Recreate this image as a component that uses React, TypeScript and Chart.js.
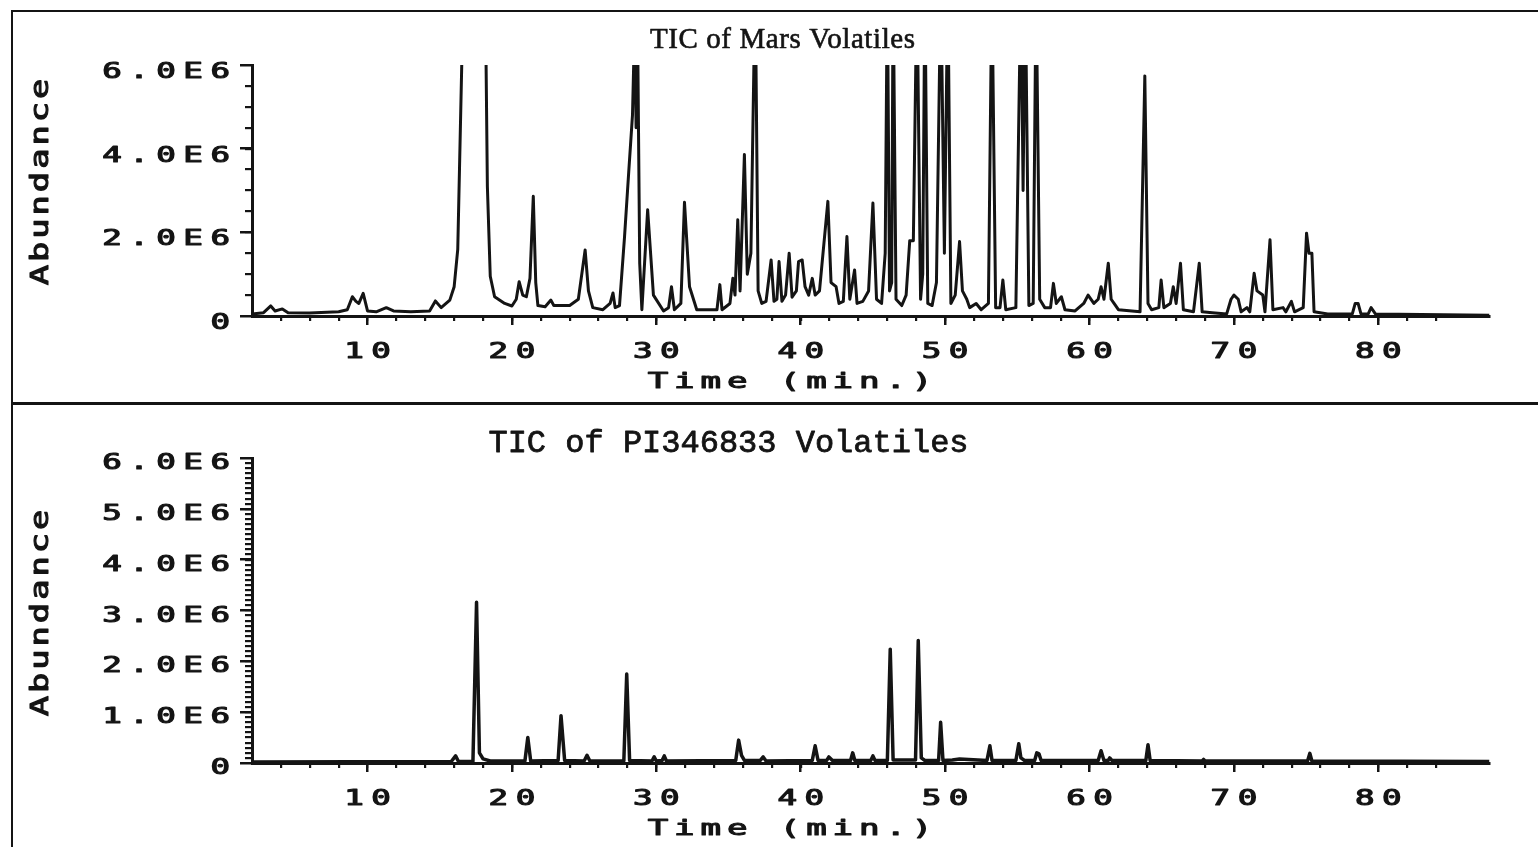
import React, { useEffect, useRef } from 'react';
import { Chart, registerables } from 'chart.js';

Chart.register(...registerables);

const INK = '#141414';

// Retention-time axis (minutes)
const timeMin = 2;
const timeMax = 87.7;
const timeMajorTicks = [10, 20, 30, 40, 50, 60, 70, 80];
const timeTickLabels = ['10', '20', '30', '40', '50', '60', '70', '80'];

// Mars volatiles: total ion current, abundance in millions of counts
const marsTime = [
  2.0, 2.8, 3.3, 3.6, 4.1, 4.5, 6.0, 8.0, 8.6, 8.95, 9.2, 9.4, 9.7, 10.0, 10.6, 11.3, 11.8, 13.0,
  14.3, 14.7, 15.1, 15.7, 16.0, 16.25, 16.65, 18.15, 18.3, 18.5, 18.8, 19.5, 20.0, 20.3, 20.5,
  20.75, 21.0, 21.25, 21.48, 21.65, 21.8, 22.3, 22.7, 22.9, 24.0, 24.6, 25.07, 25.3, 25.6, 26.3,
  26.8, 27.0, 27.15, 27.45, 27.8, 28.1, 28.35, 28.5, 28.6, 28.7, 28.85, 29.0, 29.4, 29.8, 30.5,
  30.85, 31.05, 31.25, 31.7, 31.95, 32.3, 32.8, 34.2, 34.4, 34.55, 35.1, 35.3, 35.45, 35.64, 35.8,
  36.1, 36.3, 36.55, 36.85, 37.05, 37.3, 37.6, 37.95, 38.15, 38.35, 38.5, 38.7, 38.95, 39.2, 39.4,
  39.7, 39.85, 40.1, 40.3, 40.55, 40.8, 41.0, 41.3, 41.88, 42.1, 42.45, 42.65, 42.95, 43.2, 43.4,
  43.73, 43.9, 44.3, 44.7, 45.0, 45.25, 45.6, 45.85, 46.0, 46.15, 46.3, 46.4, 46.6, 47.0, 47.3,
  47.55, 47.8, 48.05, 48.3, 48.45, 48.6, 48.8, 49.1, 49.4, 49.7, 49.95, 50.19, 50.4, 50.7, 51.0,
  51.2, 51.5, 51.7, 52.15, 52.5, 53.0, 53.24, 53.5, 53.8, 54.0, 54.2, 54.9, 55.25, 55.4, 55.55,
  55.8, 56.1, 56.3, 56.55, 56.9, 57.3, 57.5, 57.7, 58.05, 58.3, 59.0, 59.6, 59.9, 60.3, 60.6, 60.8,
  61.0, 61.3, 61.5, 61.7, 62.0, 63.5, 63.83, 64.05, 64.3, 64.8, 64.96, 65.15, 65.6, 65.8, 66.0,
  66.3, 66.5, 67.2, 67.6, 67.8, 68.5, 69.5, 69.8, 70.0, 70.3, 70.5, 70.9, 71.1, 71.4, 71.6, 72.0,
  72.15, 72.5, 72.7, 73.4, 73.6, 73.98, 74.2, 74.8, 75.03, 75.2, 75.4, 75.55, 76.5, 78.2, 78.4,
  78.6, 78.8, 79.3, 79.5, 79.8, 87.7,
];
const marsAbundanceE6 = [
  0.05, 0.08, 0.24, 0.12, 0.17, 0.08, 0.07, 0.1, 0.15, 0.46, 0.35, 0.3, 0.54, 0.12, 0.1, 0.2, 0.12, 0.1,
  0.12, 0.36, 0.2, 0.38, 0.7, 1.6, 8.0, 8.0, 3.1, 0.95, 0.46, 0.3, 0.24, 0.4, 0.82,
  0.5, 0.46, 0.9, 2.86, 0.8, 0.25, 0.22, 0.38, 0.25, 0.25, 0.4, 1.58, 0.6, 0.2, 0.15,
  0.3, 0.55, 0.2, 0.25, 1.9, 3.5, 4.8, 7.0, 4.5, 7.0, 1.26, 0.15, 2.54, 0.5, 0.12,
  0.2, 0.7, 0.15, 0.3, 2.72, 0.7, 0.15, 0.15, 0.75, 0.15, 0.3, 0.9, 0.5, 2.3, 0.6,
  3.86, 1.0, 1.5, 8.0, 0.6, 0.3, 0.35, 1.34, 0.35, 0.4, 1.3, 0.35, 0.5, 1.5, 0.45,
  0.6, 1.3, 1.34, 0.7, 0.5, 0.9, 0.5, 0.6, 2.74, 0.8, 0.7, 0.3, 0.35, 1.9, 0.4,
  1.1, 0.3, 0.35, 0.6, 2.7, 0.4, 0.3, 1.5, 8.0, 0.6, 0.8, 8.0, 0.4, 0.25, 0.5,
  1.8, 1.8, 8.0, 0.4, 1.0, 8.0, 0.3, 0.25, 0.8, 8.0, 1.5, 8.0, 0.3, 0.5, 1.78,
  0.6, 0.4, 0.2, 0.3, 0.15, 0.3, 8.0, 0.2, 0.2, 0.86, 0.15, 0.2, 8.0, 3.0, 8.0,
  0.25, 0.3, 8.0, 0.4, 0.2, 0.2, 0.78, 0.3, 0.46, 0.15, 0.12, 0.3, 0.5, 0.3, 0.4, 0.7,
  0.4, 1.26, 0.4, 0.3, 0.15, 0.1, 5.74, 0.3, 0.15, 0.2, 0.86, 0.2, 0.3, 0.7, 0.3,
  1.26, 0.15, 0.1, 1.26, 0.1, 0.08, 0.05, 0.4, 0.5, 0.4, 0.1, 0.2, 0.1, 1.02, 0.6, 0.5,
  0.1, 1.82, 0.15, 0.2, 0.1, 0.35, 0.1, 0.2, 1.98, 1.5, 1.5, 0.1, 0.05, 0.05, 0.3,
  0.3, 0.05, 0.05, 0.2, 0.05, 0.02,
];
const marsYTicks = [0, 2e6, 4e6, 6e6];
const marsYTickLabels = ['0', '2.0E6', '4.0E6', '6.0E6'];

// PI346833 volatiles: total ion current, abundance in millions of counts
const piTime = [
  2.0, 15.8, 16.1, 16.3, 17.3, 17.55, 17.75, 18.0, 18.5, 20.9, 21.1, 21.3, 23.2, 23.4, 23.65,
  25.0, 25.2, 25.4, 27.75, 27.95, 28.15, 29.7, 29.85, 30.0, 30.4, 30.55, 30.7, 35.5, 35.7, 35.9,
  36.1, 37.2, 37.4, 37.6, 40.8, 41.0, 41.2, 41.8, 41.95, 42.2, 43.45, 43.6, 43.75, 44.85, 45.0,
  45.15, 46.0, 46.2, 46.4, 47.95, 48.14, 48.35, 48.6, 49.55, 49.69, 49.85, 50.5, 51.0, 52.9,
  53.1, 53.25, 54.9, 55.1, 55.25, 55.5, 56.2, 56.35, 56.5, 56.65, 60.6, 60.8, 61.0, 61.3, 61.4,
  61.55, 63.9, 64.05, 64.2, 67.8, 67.9, 68.0, 75.1, 75.26, 75.4, 87.7,
];
const piAbundanceE6 = [
  0.02, 0.03, 0.14, 0.03, 0.03, 3.16, 0.2, 0.08, 0.04, 0.04, 0.5, 0.04, 0.05, 0.93, 0.05,
  0.04, 0.15, 0.04, 0.04, 1.75, 0.05, 0.04, 0.12, 0.04, 0.05, 0.14, 0.04, 0.05, 0.45, 0.15,
  0.05, 0.05, 0.12, 0.04, 0.05, 0.34, 0.05, 0.05, 0.12, 0.05, 0.05, 0.2, 0.05, 0.05, 0.14,
  0.05, 0.05, 2.24, 0.06, 0.06, 2.41, 0.1, 0.05, 0.05, 0.8, 0.05, 0.06, 0.08, 0.05,
  0.34, 0.05, 0.05, 0.38, 0.1, 0.05, 0.05, 0.2, 0.18, 0.05, 0.05, 0.24, 0.05, 0.05, 0.1,
  0.05, 0.05, 0.36, 0.05, 0.04, 0.07, 0.04, 0.04, 0.19, 0.04, 0.03,
];
const piYTicks = [0, 1e6, 2e6, 3e6, 4e6, 5e6, 6e6];
const piYTickLabels = ['0', '1.0E6', '2.0E6', '3.0E6', '4.0E6', '5.0E6', '6.0E6'];

type TextStyle = { font: string; spacing: number; scaleX: number; stroke: number };

// Wide, evenly pitched lettering in the style of a pen plotter
const TICK_STYLE: TextStyle = { font: '21px "DejaVu Sans Mono"', spacing: 4.8, scaleX: 1.55, stroke: 1.1 };
const TIME_STYLE: TextStyle = { font: '22px "DejaVu Sans Mono"', spacing: 3.8, scaleX: 1.55, stroke: 1.1 };
const ABUNDANCE_STYLE: TextStyle = { font: '25px "DejaVu Sans Mono"', spacing: 2.2, scaleX: 1.35, stroke: 1.1 };
const MARS_TITLE_STYLE: TextStyle = { font: '29px "Liberation Serif"', spacing: 0.6, scaleX: 1, stroke: 0.6 };
const PI_TITLE_STYLE: TextStyle = { font: '32px "Liberation Mono"', spacing: 0, scaleX: 1, stroke: 0.8 };

function drawText(
  ctx: CanvasRenderingContext2D,
  text: string,
  x: number,
  y: number,
  style: TextStyle,
  align: 'left' | 'center' | 'right',
  rotate = false,
) {
  const c = ctx as any;
  ctx.save();
  ctx.font = style.font;
  ctx.textAlign = 'left';
  ctx.textBaseline = 'alphabetic';
  const supported = 'letterSpacing' in c;
  if (supported) c.letterSpacing = '0px';
  const plain = ctx.measureText(text).width;
  const width = supported ? plain + style.spacing * (Array.from(text).length - 1) : plain;
  if (supported) c.letterSpacing = `${style.spacing}px`;
  ctx.translate(x, y);
  if (rotate) ctx.rotate(-Math.PI / 2);
  ctx.scale(style.scaleX, 1);
  const start = align === 'left' ? 0 : align === 'center' ? -width / 2 : -width;
  ctx.fillText(text, start, 0);
  if (style.stroke > 0) {
    ctx.strokeStyle = ctx.fillStyle;
    ctx.lineWidth = style.stroke;
    ctx.lineJoin = 'round';
    ctx.strokeText(text, start, 0);
  }
  ctx.restore();
}

const plotterText = {
  id: 'plotterText',
  afterDraw(chart: any, _args: any, opts: any) {
    const { ctx, chartArea: area } = chart;
    const xScale = chart.scales.x;
    const yScale = chart.scales.y;
    ctx.save();
    ctx.fillStyle = INK;
    opts.yTicks.forEach((v: number, i: number) => {
      drawText(ctx, opts.yTickLabels[i], area.left - 22, yScale.getPixelForValue(v) + opts.yLabelDrop, TICK_STYLE, 'right');
    });
    timeMajorTicks.forEach((v, i) => {
      drawText(ctx, timeTickLabels[i], xScale.getPixelForValue(v), area.bottom + 42, TICK_STYLE, 'center');
    });
    drawText(ctx, 'Time (min.)', opts.timeTitleX, area.bottom + 72, TIME_STYLE, 'center');
    drawText(ctx, 'Abundance', 35, opts.abundanceY, ABUNDANCE_STYLE, 'center', true);
    drawText(ctx, opts.title, opts.titleX, opts.titleY, opts.titleStyle, 'center');
    ctx.restore();
  },
};

function insideOnly(scale: any) {
  scale.ticks = scale.ticks.filter((t: any) => t.value > scale.min && t.value < scale.max);
}

function buildScales(yTicks: number[], yMinorStep: number) {
  const tickGrid = (len: number, width: number) => ({
    display: true,
    drawOnChartArea: false,
    drawTicks: true,
    tickLength: len,
    lineWidth: width,
    tickWidth: width,
    color: INK,
  });
  return {
    x: {
      type: 'linear',
      position: 'bottom',
      weight: 1,
      min: timeMin,
      max: timeMax,
      afterBuildTicks: (s: any) => {
        s.ticks = timeMajorTicks.map((value) => ({ value }));
      },
      afterFit: (s: any) => {
        s.height = 9;
      },
      ticks: { display: false },
      grid: tickGrid(9, 2.5),
      border: { display: true, width: 3, color: INK },
    },
    xMinor: {
      type: 'linear',
      position: 'bottom',
      weight: 0,
      min: timeMin,
      max: timeMax,
      afterBuildTicks: insideOnly,
      afterFit: (s: any) => {
        s.height = 0;
      },
      ticks: { display: false, stepSize: 2 },
      grid: tickGrid(5, 2.2),
      border: { display: false },
    },
    y: {
      type: 'linear',
      position: 'left',
      weight: 1,
      min: 0,
      max: 6e6,
      afterBuildTicks: (s: any) => {
        s.ticks = yTicks.map((value) => ({ value }));
      },
      afterFit: (s: any) => {
        s.width = 12;
      },
      ticks: { display: false },
      grid: tickGrid(12, 2.5),
      border: { display: true, width: 3, color: INK },
    },
    yMinor: {
      type: 'linear',
      position: 'left',
      weight: 0,
      min: 0,
      max: 6e6,
      afterBuildTicks: insideOnly,
      afterFit: (s: any) => {
        s.width = 0;
      },
      ticks: { display: false, stepSize: yMinorStep },
      grid: tickGrid(7, 2.2),
      border: { display: false },
    },
  };
}

function toPoints(times: number[], valuesE6: number[]) {
  return times.map((t, i) => ({ x: t, y: valuesE6[i] * 1e6 }));
}

function makeChart(
  canvas: HTMLCanvasElement,
  times: number[],
  valuesE6: number[],
  lineWidth: number,
  yTicks: number[],
  yMinorStep: number,
  bottomPad: number,
  text: any,
) {
  return new Chart(canvas, {
    type: 'line',
    data: {
      datasets: [
        {
          data: toPoints(times, valuesE6),
          borderColor: INK,
          borderWidth: lineWidth,
          pointRadius: 0,
          tension: 0,
          fill: false,
          borderJoinStyle: 'round',
        } as any,
      ],
    },
    options: {
      responsive: false,
      animation: false,
      devicePixelRatio: 1,
      layout: { padding: { left: 227, right: 48.5, top: 53, bottom: bottomPad } },
      scales: buildScales(yTicks, yMinorStep) as any,
      plugins: {
        legend: { display: false },
        tooltip: { enabled: false },
        title: { display: false },
        plotterText: text,
      } as any,
      events: [],
    },
    plugins: [plotterText],
  });
}

export default function App() {
  const marsRef = useRef<HTMLCanvasElement>(null);
  const piRef = useRef<HTMLCanvasElement>(null);

  useEffect(() => {
    const mars = makeChart(marsRef.current!, marsTime, marsAbundanceE6, 3, marsYTicks, 5e5, 77, {
      yTicks: marsYTicks,
      yTickLabels: marsYTickLabels,
      yLabelDrop: 13,
      title: 'TIC of Mars Volatiles',
      titleStyle: MARS_TITLE_STYLE,
      titleX: 769.5,
      titleY: 36,
      timeTitleX: 777,
      abundanceY: 170,
    });
    const pi = makeChart(piRef.current!, piTime, piAbundanceE6, 3.5, piYTicks, 1e5, 75, {
      yTicks: piYTicks,
      yTickLabels: piYTickLabels,
      yLabelDrop: 11,
      title: 'TIC of PI346833 Volatiles',
      titleStyle: PI_TITLE_STYLE,
      titleX: 715.5,
      titleY: 47,
      timeTitleX: 777,
      abundanceY: 208,
    });
    return () => {
      mars.destroy();
      pi.destroy();
    };
  }, []);

  const rule = (left: number, top: number, width: number, height: number) => (
    <div style={{ position: 'absolute', left, top, width, height, background: INK }} />
  );

  return (
    <div
      style={{
        position: 'fixed',
        left: 0,
        top: 0,
        width: 1538,
        height: 847,
        background: '#ffffff',
        overflow: 'hidden',
      }}
    >
      {rule(11, 10, 1527, 2)}
      {rule(11, 10, 2, 837)}
      {rule(11, 402, 1527, 3)}
      <canvas
        ref={marsRef}
        width={1525}
        height={390}
        style={{ position: 'absolute', left: 13, top: 12, width: 1525, height: 390 }}
      />
      <canvas
        ref={piRef}
        width={1525}
        height={442}
        style={{ position: 'absolute', left: 13, top: 405, width: 1525, height: 442 }}
      />
    </div>
  );
}
